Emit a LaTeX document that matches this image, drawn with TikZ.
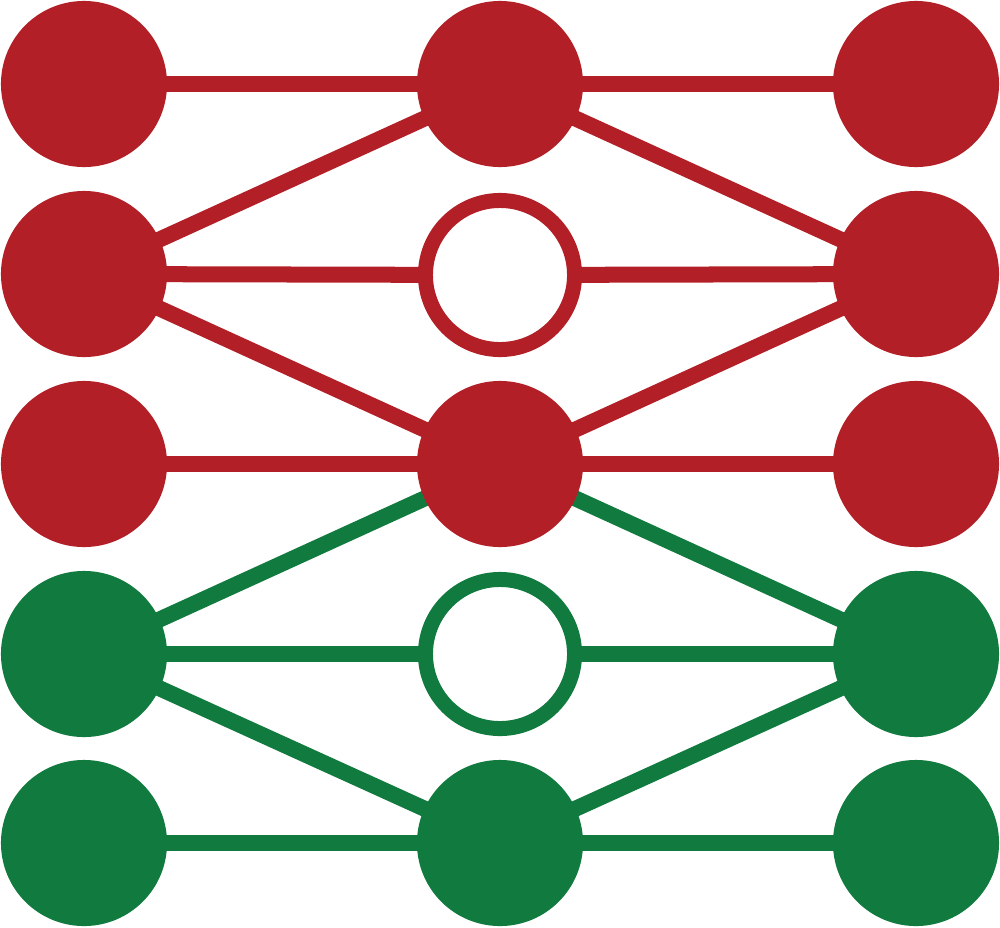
\documentclass[tikz,border=0pt]{standalone}
\usetikzlibrary{backgrounds}
\definecolor{netred}{HTML}{B31F26}
\definecolor{netgreen}{HTML}{117A3E}
\tikzset{
  dot/.style={circle,inner sep=0pt,minimum size=1.66cm,fill=#1},
  ring/.style={circle,inner sep=0pt,minimum size=1.49cm,draw=#1,line width=0.15cm,fill=white},
  link/.style={draw=#1,line width=0.16cm}
}
\begin{document}
\begin{tikzpicture}[x=0.01cm,y=-0.01cm]
\useasboundingbox (0,0) rectangle (1000,927);
% left column
\node[dot=netred] (l1) at (84,84) {};
\node[dot=netred] (l2) at (84,274) {};
\node[dot=netred] (l3) at (84,464) {};
\node[dot=netgreen] (l4) at (84,654) {};
\node[dot=netgreen] (l5) at (84,843) {};
% middle column
\node[dot=netred] (m1) at (500,84) {};
\node[ring=netred] (m2) at (500,275) {};
\node[dot=netred] (m3) at (500,464) {};
\node[ring=netgreen] (m4) at (500,654) {};
\node[dot=netgreen] (m5) at (500,843) {};
% right column
\node[dot=netred] (r1) at (916,84) {};
\node[dot=netred] (r2) at (916,274) {};
\node[dot=netred] (r3) at (916,464) {};
\node[dot=netgreen] (r4) at (916,654) {};
\node[dot=netgreen] (r5) at (916,843) {};
\begin{pgfonlayer}{background}
\draw[link=netred] (l1.center) -- (m1.center) -- (r1.center);
\draw[link=netred] (l2.center) -- (m2.center) -- (r2.center);
\draw[link=netred] (l3.center) -- (m3.center) -- (r3.center);
\draw[link=netred] (l2.center) -- (m1.center) -- (r2.center);
\draw[link=netred] (l2.center) -- (m3.center) -- (r2.center);
\draw[link=netgreen] (l4.center) -- (m3.center) -- (r4.center);
\draw[link=netgreen] (l4.center) -- (m4.center) -- (r4.center);
\draw[link=netgreen] (l5.center) -- (m5.center) -- (r5.center);
\draw[link=netgreen] (l4.center) -- (m5.center) -- (r4.center);
\end{pgfonlayer}
\end{tikzpicture}
\end{document}
